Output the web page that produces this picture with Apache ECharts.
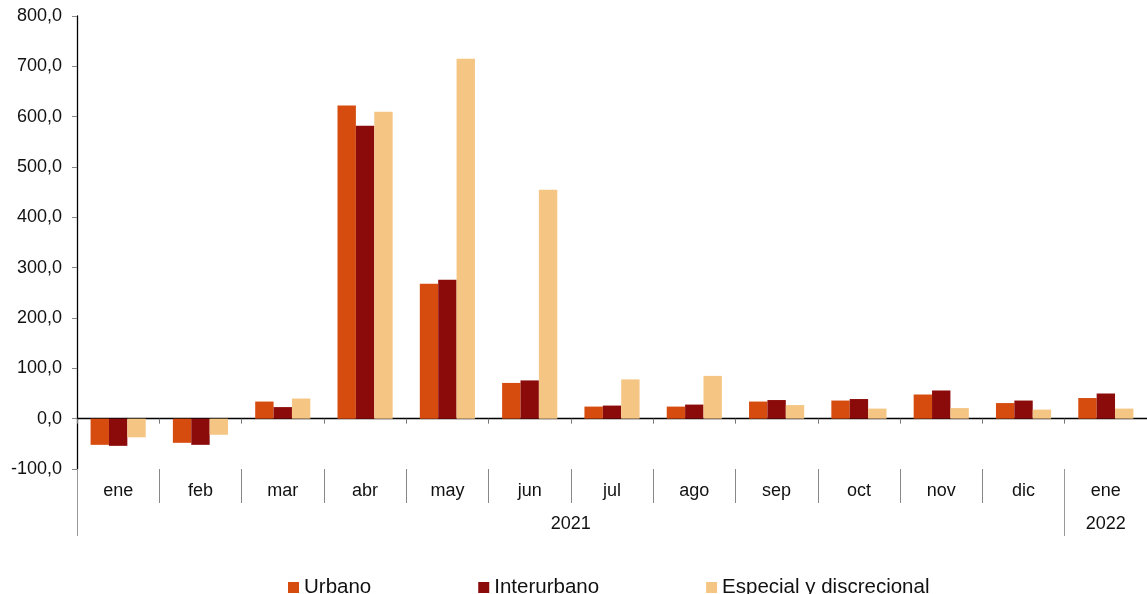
<!DOCTYPE html>
<html>
<head>
<meta charset="utf-8">
<script src="https://cdn.jsdelivr.net/npm/echarts@6/dist/echarts.min.js"></script>
<style>html,body{margin:0;padding:0;background:#fff}#c{width:1147px;height:594px}</style>
</head>
<body>
<div id="c"></div>
<script>
var months = ['ene','feb','mar','abr','may','jun','jul','ago','sep','oct','nov','dic','ene'];
var years = ['2021','2022'];
var seriesNames = ['Urbano','Interurbano','Especial y discrecional'];
var urbano = [-52,-48,34,622,268,71,24,24,34,36,48,31,41];
var interurbano = [-54,-52,23,582,276,76,26,28,37,39,56,36,50];
var especial = [-37,-32,40,610,715,455,78,85,27,20,21,18,20];
var yTicks = [-100,0,100,200,300,400,500,600,700,800];

var colors = ['#D64C0F','#8B0B0B','#F5C583'];
var font = 'Liberation Sans, Arial, sans-serif';
var chart = echarts.init(document.getElementById('c'));
chart.setOption({
  animation:false,
  textStyle:{fontFamily:font},
  grid:{left:77,right:0,top:16,bottom:125,containLabel:false},
  legend:{
    left:283, top:572, itemWidth:11, itemHeight:11, itemGap:107,
    icon:'rect',
    textStyle:{fontSize:20.5,color:'#111',fontFamily:font, padding:[0,0,0,0]},
    data:seriesNames
  },
  xAxis:[
    {type:'category',data:months,axisLine:{onZero:true,lineStyle:{color:'#000',width:1.3}},
     axisTick:{show:true,length:5,interval:0,lineStyle:{color:'#777'}},axisLabel:{show:false},splitLine:{show:false}},
    {type:'category',data:months,position:'bottom',axisLine:{show:false,onZero:false},
     axisTick:{show:true,length:34,interval:0,lineStyle:{color:'#888'}},
     axisLabel:{show:true,interval:0,fontSize:18,color:'#111',margin:13,fontFamily:font}},
    {type:'value',min:0,max:13,position:'bottom',axisLine:{show:false,onZero:false},splitLine:{show:false},
     axisTick:{show:true,length:67,customValues:[0,12],lineStyle:{color:'#999'}},
     axisLabel:{show:true,customValues:[6,12.5],fontSize:18,color:'#111',margin:46,fontFamily:font,
       formatter:function(v){return v===6?years[0]:years[1];}}}
  ],
  yAxis:{type:'value',min:yTicks[0],max:yTicks[yTicks.length-1],interval:100,
    axisLine:{show:true,lineStyle:{color:'#000',width:1.3}},
    axisTick:{show:true,length:5,lineStyle:{color:'#888'}},
    splitLine:{show:false},
    axisLabel:{fontSize:18,color:'#111',margin:15,fontFamily:font,formatter:function(v){return v.toFixed(1).replace('.',',');}}},
  series:[
    {name:seriesNames[0],type:'bar',data:urbano,itemStyle:{color:colors[0]},barGap:'0%',barCategoryGap:'33%'},
    {name:seriesNames[1],type:'bar',data:interurbano,itemStyle:{color:colors[1]},barGap:'0%',barCategoryGap:'33%'},
    {name:seriesNames[2],type:'bar',data:especial,itemStyle:{color:colors[2]},barGap:'0%',barCategoryGap:'33%'}
  ]
});
</script>
</body>
</html>
